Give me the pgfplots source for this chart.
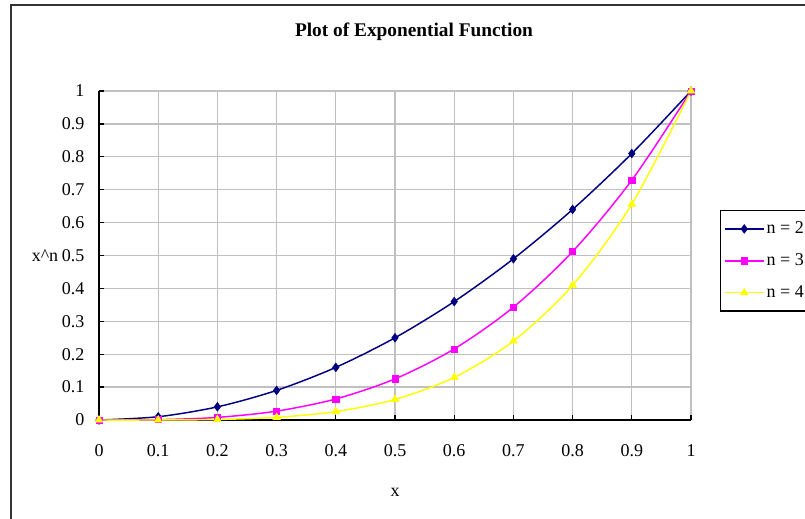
\documentclass[border=0pt]{standalone}
\usepackage{fontspec}
\setmainfont{Liberation Serif}
\usepackage{pgfplots}
\pgfplotsset{compat=1.18}
\definecolor{navyx}{RGB}{0,0,128}
\definecolor{magx}{RGB}{255,0,255}
\definecolor{yelx}{RGB}{255,255,0}
\definecolor{gridgray}{RGB}{192,192,192}
\begin{document}
\begin{tikzpicture}[x=0.75pt,y=-0.75pt]
\useasboundingbox (0,0) rectangle (805,518);
\clip (0,0) rectangle (805,518);
\fill[white] (0,0) rectangle (805,518);
\draw[line width=1.6pt, black!80] (11,540) -- (11,5) -- (830,5);
\coordinate (A) at (99,420);
\begin{axis}[
  at={(A)}, anchor=south west,
  scale only axis, width=444pt, height=246.75pt,
  xmin=0, xmax=1, ymin=0, ymax=1,
  clip=false,
  axis lines*=left,
  axis line style={line width=1.3pt, black},
  xtick={0,0.1,...,1.01}, ytick={0,0.1,...,1.01},
  xticklabels={0,0.1,0.2,0.3,0.4,0.5,0.6,0.7,0.8,0.9,1},
  yticklabels={0,0.1,0.2,0.3,0.4,0.5,0.6,0.7,0.8,0.9,1},
  tick align=inside,
  major tick length=4pt,
  tick style={line width=1pt, black},
  grid=major,
  major grid style={line width=1pt, gridgray},
  ticklabel style={font=\fontsize{13.5}{15}\selectfont},
  yticklabel style={xshift=-7.5pt},
  xticklabel style={yshift=-15pt},
  legend style={at={(1.049,0.638)}, anchor=north west, draw=black, line width=0.8pt,
    font=\fontsize{13.5}{15}\selectfont, row sep=9.5pt, inner xsep=3pt, inner ysep=6.5pt, cells={anchor=west}},
  legend cell align=left,
  legend image code/.code={\draw[mark repeat=2,mark phase=2] plot coordinates {(0cm,0cm)(0.5cm,0cm)(1cm,0cm)};},
]
\addplot[navyx, line width=1.1pt, smooth, mark=diamond*, mark size=3.2pt, mark options={solid, line width=0.5pt}] coordinates {
(0,0)(0.1,0.01)(0.2,0.04)(0.3,0.09)(0.4,0.16)(0.5,0.25)(0.6,0.36)(0.7,0.49)(0.8,0.64)(0.9,0.81)(1,1)};
\addlegendentry{n = 2}
\addplot[magx, line width=1.1pt, smooth, mark=square*, mark size=2.3pt, mark options={solid, line width=0.5pt}] coordinates {
(0,0)(0.1,0.001)(0.2,0.008)(0.3,0.027)(0.4,0.064)(0.5,0.125)(0.6,0.216)(0.7,0.343)(0.8,0.512)(0.9,0.729)(1,1)};
\addlegendentry{n = 3}
\addplot[yelx, line width=1.1pt, smooth, mark=triangle*, mark size=3.2pt, mark options={solid, line width=0.5pt}] coordinates {
(0,0)(0.1,0.0001)(0.2,0.0016)(0.3,0.0081)(0.4,0.0256)(0.5,0.0625)(0.6,0.1296)(0.7,0.2401)(0.8,0.4096)(0.9,0.6561)(1,1)};
\addlegendentry{n = 4}
\end{axis}
\node[font=\bfseries\fontsize{14.5}{16}\selectfont] at (414,32) {Plot of Exponential Function};
\node[font=\fontsize{13.5}{15}\selectfont] at (395,492) {x};
\node[font=\fontsize{13.5}{15}\selectfont] at (45,256) {x\textasciicircum n};
\end{tikzpicture}
\end{document}
